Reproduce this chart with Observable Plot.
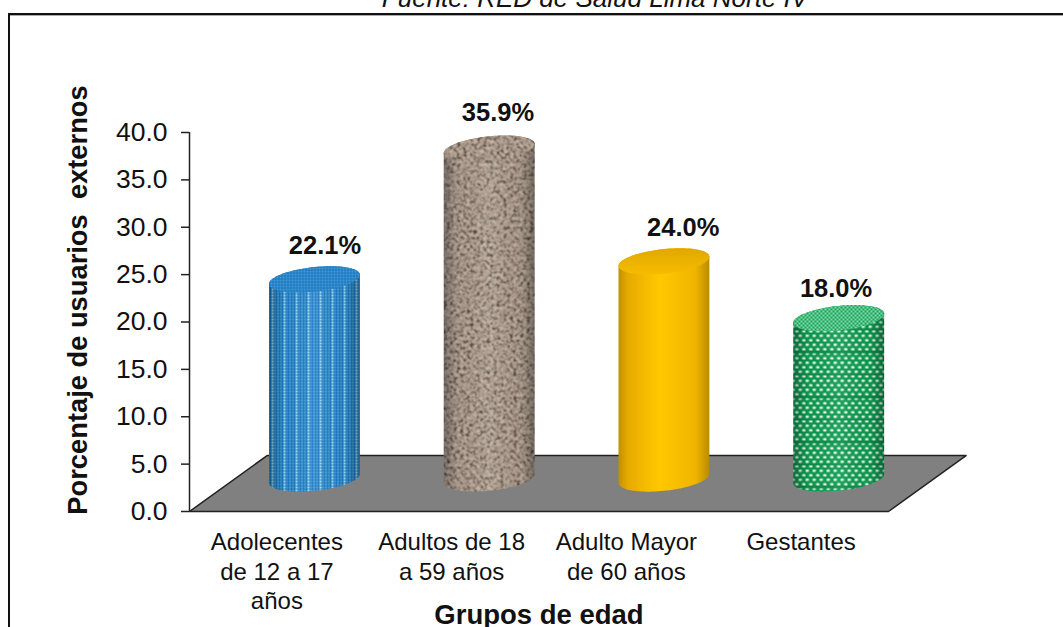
<!DOCTYPE html>
<html lang="es">
<head>
<meta charset="utf-8">
<title>Grupos de edad</title>
<script src="https://cdn.jsdelivr.net/npm/d3@7"></script>
<script src="https://cdn.jsdelivr.net/npm/@observablehq/plot@0.6"></script>
<style>
  html, body { margin: 0; padding: 0; background: #fff; overflow: hidden; }
  #lienzo { position: relative; width: 1063px; height: 627px; overflow: hidden; }
  #marco { position: absolute; left: 8px; top: 13px; width: 1100px; height: 700px;
           border-left: 2px solid #111; border-top: 2px solid #111;
           box-shadow: inset 0 1px 0 #aaa; }
  #lienzo svg.plot, #lienzo > svg { position: absolute; left: 0; top: 0; }
  #texturas { position: absolute; width: 0; height: 0; }
</style>
</head>
<body>
<svg id="texturas" aria-hidden="true">
  <defs>
    <!-- Woven blue: fine light dots with paler vertical streaks -->
    <pattern id="tejidoAzul" patternUnits="userSpaceOnUse" width="12" height="3">
      <rect width="12" height="3" fill="#1f7fc9"/>
      <rect x="1" width="1" height="3" fill="#6cbdec"/>
      <rect x="4" width="1" height="3" fill="#58aee2"/>
      <rect x="7" width="2" height="3" fill="#9bdcf8"/>
      <rect x="10" width="1" height="3" fill="#58aee2"/>
      <rect x="0" y="2" width="12" height="1" fill="#176cb0" opacity=".7"/>
    </pattern>
    <pattern id="tapaAzul" patternUnits="userSpaceOnUse" width="3" height="3">
      <rect width="3" height="3" fill="#1c78c0"/>
      <circle cx="1" cy="1" r=".8" fill="#6fbfea"/>
    </pattern>
    <!-- Speckled stone built from turbulence -->
    <filter id="granito" filterUnits="userSpaceOnUse" x="0" y="0" width="200" height="420" color-interpolation-filters="sRGB">
      <feTurbulence type="fractalNoise" baseFrequency="0.3" numOctaves="2" seed="7"/>
      <feColorMatrix type="matrix" values="0 0 0 0 0  0 0 0 0 0  0 0 0 0 0  1.4 0.6 0 0 -0.5"/>
      <feComponentTransfer result="n">
        <feFuncA type="table" tableValues="0 .28 1"/>
      </feComponentTransfer>
      <feColorMatrix in="n" type="matrix" values="0 0 0 -0.5 .80  0 0 0 -0.48 .73  0 0 0 -0.46 .67  0 0 0 0 1"/>
    </filter>
    <pattern id="piedra" patternUnits="userSpaceOnUse" x="400" y="100" width="200" height="420">
      <rect x="0" y="0" width="200" height="420" filter="url(#granito)"/>
    </pattern>
    <!-- Staggered white dots on green, with faint darker rings -->
    <pattern id="puntosVerdes" patternUnits="userSpaceOnUse" width="7" height="45">
      <rect width="7" height="45" fill="#0c9a4e"/>
      <g fill="#effff5">
        <ellipse cx="1.75" cy="2.25" rx="1.8" ry="1.25"/><ellipse cx="5.25" cy="6.75" rx="1.8" ry="1.25"/>
        <ellipse cx="1.75" cy="11.25" rx="1.8" ry="1.25"/><ellipse cx="5.25" cy="15.75" rx="1.8" ry="1.25"/>
        <ellipse cx="1.75" cy="20.25" rx="1.8" ry="1.25"/><ellipse cx="5.25" cy="24.75" rx="1.8" ry="1.25"/>
        <ellipse cx="1.75" cy="29.25" rx="1.8" ry="1.25"/><ellipse cx="5.25" cy="33.75" rx="1.8" ry="1.25"/>
        <ellipse cx="1.75" cy="38.25" rx="1.8" ry="1.25"/><ellipse cx="5.25" cy="42.75" rx="1.8" ry="1.25"/>
      </g>
      <rect y="13" width="7" height="2" fill="#0a8a45" opacity=".8"/>
      <rect y="35" width="7" height="3" fill="#0a8a45" opacity=".8"/>
    </pattern>
    <pattern id="tapaVerde" patternUnits="userSpaceOnUse" width="4" height="4">
      <rect width="4" height="4" fill="#15a458"/>
      <circle cx="1" cy="1" r=".9" fill="#b7efcf"/>
      <circle cx="3" cy="3" r=".9" fill="#b7efcf"/>
    </pattern>
    <linearGradient id="oro" x1="0" x2="1" y1="0" y2="0">
      <stop offset="0" stop-color="#c09000"/>
      <stop offset=".1" stop-color="#e6aa00"/>
      <stop offset=".45" stop-color="#ffc800"/>
      <stop offset=".85" stop-color="#f0b400"/>
      <stop offset="1" stop-color="#b88a00"/>
    </linearGradient>
    <linearGradient id="tapaOro" x1="0" x2="0" y1="0" y2="1">
      <stop offset="0" stop-color="#e0a800"/>
      <stop offset="1" stop-color="#f6bc00"/>
    </linearGradient>
    <!-- Side shading that rounds the textured cylinders -->
    <linearGradient id="sombra" x1="0" x2="1" y1="0" y2="0">
      <stop offset="0" stop-color="#000" stop-opacity=".3"/>
      <stop offset=".15" stop-color="#000" stop-opacity=".04"/>
      <stop offset=".5" stop-color="#fff" stop-opacity=".08"/>
      <stop offset=".85" stop-color="#000" stop-opacity=".05"/>
      <stop offset="1" stop-color="#000" stop-opacity=".32"/>
    </linearGradient>
    <linearGradient id="sinSombra" x1="0" x2="1" y1="0" y2="0">
      <stop offset="0" stop-color="#000" stop-opacity="0"/>
    </linearGradient>
  </defs>
</svg>
<div id="lienzo"><div id="marco"></div></div>
<script>
// Chart values
const grupos = ["Adolecentes\nde 12 a 17\naños", "Adultos de 18\na 59 años", "Adulto Mayor\nde 60 años", "Gestantes"];
const porcentajes = [22.1, 35.9, 24.0, 18.0];
const ticksY = [0, 5, 10, 15, 20, 25, 30, 35, 40];

// Fills for the side and the top of each cylinder
const texturaCuerpo = ["url(#tejidoAzul)", "url(#piedra)", "url(#oro)", "url(#puntosVerdes)"];
const texturaTapa = ["url(#tapaAzul)", "url(#piedra)", "url(#tapaOro)", "url(#tapaVerde)"];
const sombraCuerpo = ["url(#sombra)", "url(#sombra)", "url(#sinSombra)", "url(#sombra)"];

// Perspective of the floor and cylinders, in scale units
const fondoX = 0.444, fondoY = 5.9;   // shift of the floor's back edge
const centroX = 0.715;                // cylinder axis inside its band
const radioX = 0.26, radioY = 1.3;    // ellipse radii
const inclinacion = 0.48;             // ellipse tilt (right side higher)
const nivelBase = 3.48;               // height of the base ellipse on screen
const elevacion = 2.4;                // the top plane sits this far above the axis value
const ajusteEtiqueta = [0.06, 0.05, 0.11, -0.015]; // label shifts beside the tops
const alturaEtiqueta = [2.7, 2.9, 2.7, 2.2];       // label lift above the tops

const piso = [
  {x: 0, y: 0}, {x: fondoX, y: fondoY}, {x: 4 + fondoX, y: fondoY}, {x: 4, y: 0}, {x: 0, y: 0}
];

// Point on a cylinder's ellipse at angle t
const punto = (i, nivel, t) => ({
  x: i + centroX + radioX * Math.cos(t),
  y: nivel + radioY * Math.sin(t) + inclinacion * Math.cos(t)
});
const angulos = (a, b, n = 48) => d3.range(n + 1).map((k) => a + (b - a) * k / n);

const cuerpo = (i) => [
  ...angulos(Math.PI, 0).map((t) => punto(i, porcentajes[i] + elevacion, t)),
  ...angulos(0, -Math.PI).map((t) => punto(i, nivelBase, t))
];
const tapa = (i) => angulos(0, 2 * Math.PI, 96).map((t) => punto(i, porcentajes[i] + elevacion, t));

const cilindros = porcentajes.flatMap((v, i) => [
  Plot.line(cuerpo(i), {x: "x", y: "y", fill: texturaCuerpo[i], stroke: "none"}),
  Plot.line(cuerpo(i), {x: "x", y: "y", fill: sombraCuerpo[i], stroke: "none"}),
  Plot.line(tapa(i), {x: "x", y: "y", fill: texturaTapa[i], stroke: "none"})
]);

const fuente = "'Liberation Sans', Arial, sans-serif";

const grafico = Plot.plot({
  width: 1063,
  height: 627,
  marginLeft: 189,
  marginRight: 175,
  marginTop: 132,
  marginBottom: 116,
  style: {fontFamily: fuente, background: "transparent", color: "#111", overflow: "visible"},
  x: {domain: [0, 4], axis: null},
  y: {domain: [0, 40], axis: null},
  marks: [
    Plot.line(piso, {x: "x", y: "y", fill: "#808080", stroke: "#222", strokeWidth: 1.5}),
    Plot.axisY({ticks: ticksY, tickFormat: d3.format(".1f"), tickSize: 8, tickPadding: 14,
                fontSize: 26.5, label: null, stroke: "#222", strokeWidth: 1.5, anchor: "left"}),
    Plot.ruleX([0], {y1: 0, y2: 40, stroke: "#222", strokeWidth: 1.5}),
    ...cilindros,
    Plot.text(porcentajes, {
      x: (d, i) => i + centroX + ajusteEtiqueta[i],
      y: (d, i) => d + elevacion + alturaEtiqueta[i],
      text: (d) => d.toFixed(1) + "%",
      fontSize: 25.5, fontWeight: "bold", lineAnchor: "bottom", fill: "#111"
    }),
    Plot.text(grupos, {
      x: (d, i) => i + 0.5,
      y: () => 0,
      text: (d) => d,
      fontSize: 24, lineAnchor: "top", dy: 18, lineHeight: 1.23, fill: "#111"
    }),
    Plot.text(["Porcentaje de usuarios  externos"], {
      frameAnchor: "left", textAnchor: "middle", dx: -111, dy: -22, rotate: -90,
      fontSize: 27.3, fontWeight: "bold", fill: "#111"
    }),
    Plot.text(["Grupos de edad"], {
      frameAnchor: "bottom", dy: 112, lineAnchor: "bottom",
      fontSize: 27.5, fontWeight: "bold", fill: "#111"
    }),
    Plot.text(["Fuente: RED de Salud Lima Norte IV"], {
      frameAnchor: "top", dx: 56, dy: -144, lineAnchor: "top",
      fontSize: 26, fontStyle: "italic", fill: "#111"
    })
  ]
});

document.getElementById("lienzo").appendChild(grafico);
</script>
</body>
</html>
